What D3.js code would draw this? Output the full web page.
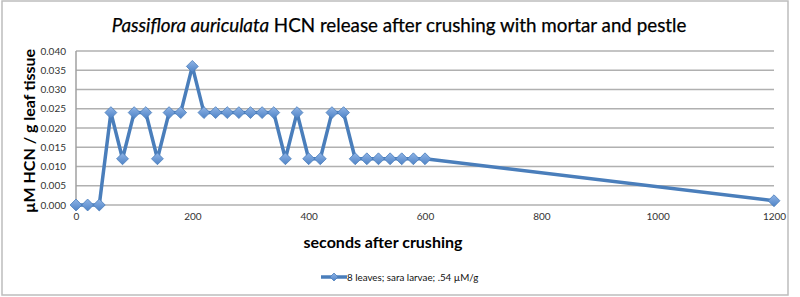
<!DOCTYPE html>
<html>
<head>
<meta charset="utf-8">
<title>Passiflora auriculata HCN release</title>
<script src="https://d3js.org/d3.v7.min.js"></script>
<style>
  body { margin: 0; background: #fff; }
  svg text { font-family: Lato, "Open Sans", sans-serif; }
</style>
</head>
<body>
<div id="chart"></div>
<script>
// seconds after crushing
const seconds = [0, 20, 40, 60, 80, 100, 120, 140, 160, 180, 200, 220, 240, 260, 280, 300,
  320, 340, 360, 380, 400, 420, 440, 460, 480, 500, 520, 540, 560, 580, 600, 1200];
// µM HCN / g leaf tissue
const hcn = [0, 0, 0, 0.024, 0.012, 0.024, 0.024, 0.012, 0.024, 0.024, 0.036, 0.024, 0.024, 0.024, 0.024, 0.024,
  0.024, 0.024, 0.012, 0.024, 0.012, 0.012, 0.024, 0.024, 0.012, 0.012, 0.012, 0.012, 0.012, 0.012, 0.012, 0.0011];
const xTicks = [0, 200, 400, 600, 800, 1000, 1200];
const yTicks = [0, 0.005, 0.010, 0.015, 0.020, 0.025, 0.030, 0.035, 0.040];
const seriesName = "8 leaves; sara larvae; .54 µM/g";

const width = 800, height = 297;
const plot = { left: 76, right: 774, top: 51, bottom: 205 };

const svg = d3.select("#chart").append("svg")
  .attr("width", width).attr("height", height);

// outer frame
svg.append("rect")
  .attr("x", 2).attr("y", 1).attr("width", 786).attr("height", 294)
  .attr("fill", "#fff").attr("stroke", "#bdbdbd").attr("stroke-width", 1.5);

const x = d3.scaleLinear().domain([0, 1200]).range([plot.left, plot.right]);
const y = d3.scaleLinear().domain([0, 0.04]).range([plot.bottom, plot.top]);

// gridlines
svg.append("g").selectAll("line")
  .data(yTicks)
  .join("line")
  .attr("x1", plot.left).attr("x2", plot.right)
  .attr("y1", d => y(d)).attr("y2", d => y(d))
  .attr("stroke", "#b0b0b0").attr("stroke-width", 1.5);

// vertical axis line
svg.append("line")
  .attr("x1", plot.left).attr("x2", plot.left)
  .attr("y1", plot.top).attr("y2", plot.bottom)
  .attr("stroke", "#a0a0a0").attr("stroke-width", 1.5);

// y axis labels
const yAxis = svg.append("g")
  .attr("transform", `translate(${plot.left - 10},0)`)
  .call(d3.axisLeft(y).tickValues(yTicks).tickFormat(d3.format(".3f")).tickSize(0).tickPadding(0));
yAxis.select(".domain").remove();
yAxis.selectAll("text").attr("font-size", 10).attr("fill", "#333").attr("font-family", "Lato, sans-serif");

// x axis labels
const xAxis = svg.append("g")
  .attr("transform", `translate(0,${plot.bottom + 8})`)
  .call(d3.axisBottom(x).tickValues(xTicks).tickFormat(d3.format("d")).tickSize(0).tickPadding(0));
xAxis.select(".domain").remove();
xAxis.selectAll("text").attr("font-size", 10).attr("fill", "#333").attr("font-family", "Lato, sans-serif");

// gradient for markers
const defs = svg.append("defs");
const grad = defs.append("linearGradient").attr("id", "mk").attr("x1", 0).attr("y1", 0).attr("x2", 0).attr("y2", 1);
grad.append("stop").attr("offset", "0%").attr("stop-color", "#8fb4e6");
grad.append("stop").attr("offset", "100%").attr("stop-color", "#4f83c6");

const data = seconds.map((s, i) => ({ s, v: hcn[i] }));

// series line
svg.append("path")
  .datum(data)
  .attr("fill", "none")
  .attr("stroke", "#4a7ebb")
  .attr("stroke-width", 3.5)
  .attr("stroke-linejoin", "round")
  .attr("d", d3.line().x(d => x(d.s)).y(d => y(d.v)));

// diamond markers
const diamond = d3.symbol().type(d3.symbolDiamond2).size(90);
svg.append("g").selectAll("path")
  .data(data)
  .join("path")
  .attr("transform", d => `translate(${x(d.s)},${y(d.v)})`)
  .attr("d", diamond)
  .attr("fill", "url(#mk)")
  .attr("stroke", "#4a7ebb")
  .attr("stroke-width", 0.8);

// title
const title = svg.append("text")
  .attr("x", 399).attr("y", 32)
  .attr("text-anchor", "middle")
  .attr("font-size", 18.8)
  .attr("fill", "#000")
  .attr("stroke", "#000").attr("stroke-width", 0.25);
title.append("tspan").attr("font-style", "italic").text("Passiflora auriculata");
title.append("tspan").text(" HCN release after crushing with mortar and pestle");

// axis titles
svg.append("text")
  .attr("x", 383).attr("y", 248)
  .attr("text-anchor", "middle")
  .attr("font-size", 16).attr("font-weight", "bold")
  .text("seconds after crushing");

svg.append("text")
  .attr("transform", "translate(35,131) rotate(-90)")
  .attr("text-anchor", "middle")
  .attr("font-size", 16).attr("font-weight", "bold")
  .text("µM HCN / g leaf tissue");

// legend
const lg = svg.append("g").attr("transform", "translate(321,277)");
lg.append("line").attr("x1", 0).attr("x2", 26).attr("y1", 0).attr("y2", 0)
  .attr("stroke", "#4a7ebb").attr("stroke-width", 3.5);
lg.append("path").attr("transform", "translate(13,0)").attr("d", d3.symbol().type(d3.symbolDiamond2).size(40))
  .attr("fill", "url(#mk)").attr("stroke", "#4a7ebb").attr("stroke-width", 0.8);
lg.append("text").attr("x", 26).attr("y", 3.5)
  .attr("font-size", 9.8).attr("fill", "#111")
  .text(seriesName);
</script>
</body>
</html>
